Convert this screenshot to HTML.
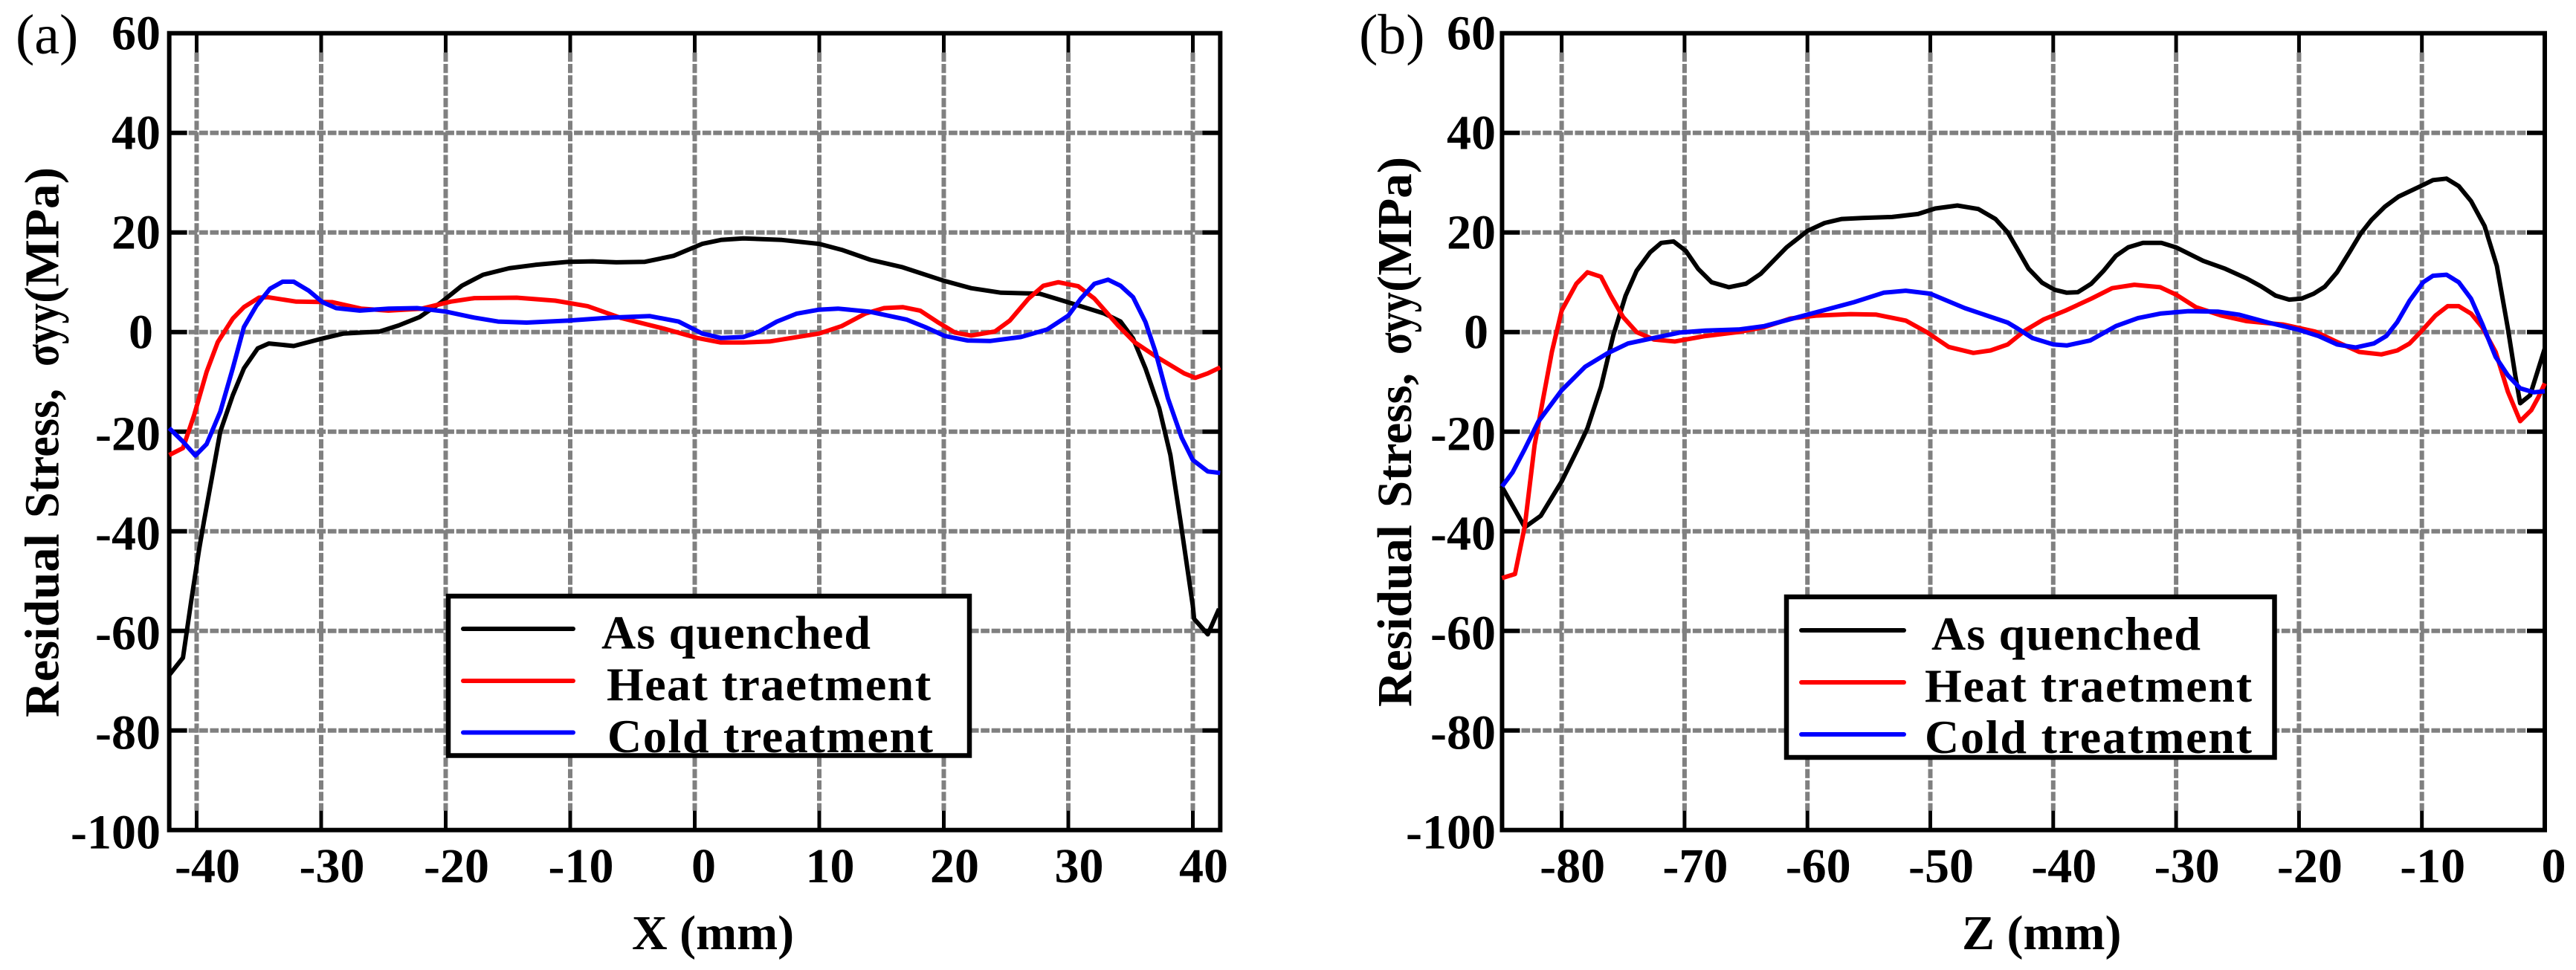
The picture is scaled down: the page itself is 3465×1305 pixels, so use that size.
<!DOCTYPE html>
<html lang="en">
<head>
<meta charset="utf-8">
<title>Residual stress charts</title>
<style>
html,body{margin:0;padding:0;background:#fff;}
svg{display:block;}
text{font-family:"Liberation Serif","Noto Serif CJK SC",serif;fill:#000;}
.b{font-weight:bold;}
</style>
</head>
<body>
<svg id="chart" xmlns="http://www.w3.org/2000/svg" width="3465" height="1305" viewBox="0 0 3465 1305">
  <rect width="3465" height="1305" fill="#fff"/>

  <g id="panel-a"></g>
  <g id="panel-b"></g>

  <g>
    <text x="21" y="72" font-size="76">(a)</text>
    <g class="b" font-size="66" font-weight="bold" transform="translate(78.5,965) rotate(-90)">
      <text x="0" y="0" textLength="247" lengthAdjust="spacing">Residual</text>
      <text x="268" y="0" textLength="174" lengthAdjust="spacingAndGlyphs">Stress,</text>
      <text x="472" y="0" textLength="85" lengthAdjust="spacingAndGlyphs">σyy</text>
      <text x="557" y="0" textLength="183" lengthAdjust="spacingAndGlyphs">(MPa)</text>
    </g>
    <text class="b" font-size="66" x="850" y="1277">X (mm)</text>
    <g>
      <rect x="603" y="802" width="701" height="214.5" fill="#fff" stroke="#000" stroke-width="6.5"/>
      <line x1="623" x2="771" y1="846" y2="846" stroke="#000" stroke-width="6" stroke-linecap="round"/>
      <line x1="623" x2="771" y1="916" y2="916" stroke="#f00" stroke-width="6" stroke-linecap="round"/>
      <line x1="623" x2="771" y1="985.5" y2="985.5" stroke="#00f" stroke-width="6" stroke-linecap="round"/>
      <text class="b" font-size="64" x="809" y="872.5" textLength="362" lengthAdjust="spacing">As quenched</text>
      <text class="b" font-size="64" x="816" y="942" textLength="436" lengthAdjust="spacing">Heat traetment</text>
      <text class="b" font-size="64" x="817" y="1012" textLength="438" lengthAdjust="spacing">Cold treatment</text>
    </g>
  </g>

  <g>
    <text x="1828" y="72" font-size="76">(b)</text>
    <g class="b" font-size="66" font-weight="bold" transform="translate(1898,951) rotate(-90)">
      <text x="0" y="0" textLength="245" lengthAdjust="spacing">Residual</text>
      <text x="268" y="0" textLength="181" lengthAdjust="spacingAndGlyphs">Stress,</text>
      <text x="474" y="0" textLength="84" lengthAdjust="spacingAndGlyphs">σyy</text>
      <text x="558" y="0" textLength="182" lengthAdjust="spacingAndGlyphs">(MPa)</text>
    </g>
    <text class="b" font-size="66" x="2639" y="1277">Z (mm)</text>
    <g>
      <rect x="2403" y="803" width="656.5" height="216" fill="#fff" stroke="#000" stroke-width="6.5"/>
      <line x1="2423" x2="2561" y1="848" y2="848" stroke="#000" stroke-width="6" stroke-linecap="round"/>
      <line x1="2423" x2="2561" y1="918" y2="918" stroke="#f00" stroke-width="6" stroke-linecap="round"/>
      <line x1="2423" x2="2561" y1="988" y2="988" stroke="#00f" stroke-width="6" stroke-linecap="round"/>
      <text class="b" font-size="64" x="2598" y="874" textLength="362" lengthAdjust="spacing">As quenched</text>
      <text class="b" font-size="64" x="2589" y="944" textLength="440" lengthAdjust="spacing">Heat traetment</text>
      <text class="b" font-size="64" x="2589" y="1013" textLength="440" lengthAdjust="spacing">Cold treatment</text>
    </g>
  </g>
</svg>

<script>
const yTicks = [60, 40, 20, 0, -20, -40, -60, -80, -100];
const xTicksA = [-40, -30, -20, -10, 0, 10, 20, 30, 40];
const xTicksB = [-80, -70, -60, -50, -40, -30, -20, -10, 0];

const aBlackX = [-42.2,-41.1,-40.4,-39.8,-39.4,-38.1,-37.1,-36.2,-35.1,-34.2,-32.2,-29.9,-28.2,-25.3,-23.8,-22.1,-20.4,-18.7,-17,-14.9,-12.8,-10.1,-8.2,-6.3,-4,-1.7,0.6,2.1,3.9,7,10,11.8,14.1,16.7,20,22.2,24.6,27.7,29.8,32.9,34.2,35.2,36.2,37.3,38.2,39,40,40.1,41.2,42.1];
const aBlackY = [-68.9,-65.4,-53.4,-43.6,-37.8,-20,-12.7,-7.3,-3.3,-2.3,-2.8,-1.3,-0.3,0.1,1.3,3,5.9,9.3,11.5,12.8,13.5,14.1,14.2,14,14.1,15.3,17.7,18.5,18.8,18.5,17.7,16.5,14.5,13,10.3,8.8,7.9,7.7,6.1,3.7,2.1,-1.3,-7.3,-15.3,-24.7,-37.9,-55,-57.6,-60.7,-55.6];

const aRedX = [-42.2,-41.1,-40.2,-39.2,-38.3,-37.1,-36.2,-35,-34.3,-32,-29.1,-26.8,-24.6,-21.9,-19.6,-17.7,-14.3,-11.2,-8.6,-5.9,-2.5,0.2,2.1,3.9,6,10,11.8,13.7,15.2,16.7,18.1,19.5,20.9,22.2,24.1,25.3,26.8,28,29.2,30.8,32.1,34,35.3,37.1,39.3,40.2,41.2,42.2];
const aRedY = [-24.7,-23.3,-16.7,-8,-2,2.7,5,6.9,7,6.1,6,4.7,4.3,4.7,6.1,6.8,6.9,6.3,5.2,2.8,0.7,-1.2,-2.1,-2.1,-1.9,-0.3,1.2,3.7,4.8,5,4.3,2,-0.1,-0.7,0.1,2.3,6.7,9.3,10,9.2,6.7,1.3,-2,-5,-8.3,-9.2,-8.3,-7.1];

const aBlueX = [-42.2,-41.1,-40.1,-39.2,-38.1,-37.1,-36.2,-35.2,-34.1,-33.1,-32.2,-31,-29.9,-28.8,-26.9,-24.6,-22.3,-20,-17.7,-15.8,-13.5,-10.1,-6.7,-3.6,-1.3,0.6,2.1,3.9,5.1,6.6,8.2,10,11.5,14,17,18.5,20.1,21.9,23.7,26.2,28.3,30,31,32.1,33.2,34.2,35.2,36.2,37,38,39.1,40,41.2,42.2];
const aBlueY = [-19.3,-22,-24.8,-22.5,-16,-7.3,1,5.3,8.7,10.1,10.1,8.3,6,4.8,4.3,4.7,4.8,4.1,2.9,2.1,1.9,2.3,2.9,3.2,2.1,-0.3,-1.2,-1,0,2.1,3.7,4.5,4.7,4.1,2.5,1,-0.8,-1.7,-1.8,-1,0.5,3.3,6.7,9.7,10.5,9.3,7,2,-4,-13.3,-21.2,-25.7,-28,-28.3];

const bBlackX = [-84.9,-83,-81.7,-80,-78.6,-77.9,-76.8,-75.8,-74.8,-73.9,-72.8,-71.9,-70.9,-69.9,-68.9,-67.8,-66.4,-65,-63.8,-61.7,-60,-58.6,-57.2,-55.5,-53.1,-51,-49.6,-47.8,-46.1,-44.7,-43.7,-43,-42,-40.9,-39.9,-38.9,-38,-36.9,-35.9,-34.9,-33.9,-32.7,-31.2,-30,-27.8,-26,-24.3,-23.1,-21.9,-20.8,-19.8,-18.8,-17.9,-16.9,-15.9,-15,-14.1,-13,-11.9,-10.1,-9.1,-8,-7,-6,-4.9,-3.9,-3,-2.4,-2,-1.2,-0.6,0];
const bBlackY = [-30.9,-39.2,-36.9,-30,-23,-19.3,-11,-0.7,7.3,12.3,16,17.9,18.2,16.3,12.7,10,9,9.7,11.7,17,20.3,21.9,22.7,22.9,23.1,23.7,24.8,25.4,24.7,22.7,20,17,12.7,9.9,8.5,7.9,8,9.7,12.3,15.3,17,17.9,17.9,17,14.3,12.7,10.8,9.2,7.3,6.5,6.7,7.7,9.1,12,16,19.7,22.5,25.2,27.2,29.3,30.5,30.8,29.3,26.3,21.3,13.3,0.7,-8.7,-14.3,-12.7,-8,-3.3];

const bRedX = [-84.85,-83.8,-83,-82.2,-81.5,-80.8,-80,-78.8,-77.9,-76.8,-76,-75,-73.9,-72.5,-70.8,-68.3,-65.6,-63.5,-61.4,-59.3,-56.5,-54.4,-52,-50.3,-48.5,-46.5,-45.1,-43.7,-42.3,-40.8,-39,-36.9,-35.2,-33.4,-31.3,-30,-28.4,-26.3,-24.3,-21.3,-18.7,-16.9,-15.1,-13.3,-12,-11,-10.1,-8.9,-7.9,-7,-6,-5.1,-4,-3,-2,-1.1,-0.5,0];
const bRedY = [-49.4,-48.6,-39,-22.7,-13.3,-4,4.3,9.7,12,11.1,7.3,3,0,-1.5,-1.9,-0.8,0,1,2.7,3.3,3.6,3.5,2.3,0,-3,-4.2,-3.7,-2.5,0.3,2.5,4.3,6.7,8.8,9.5,9,7.5,5,3.3,2.2,1.5,0.1,-2,-4,-4.5,-3.7,-2.3,0,3.3,5.2,5.2,3.7,1,-4,-12,-17.9,-15.7,-13,-10.3];

const bBlueX = [-84.85,-84,-83,-81.9,-80,-78.1,-76.3,-74.6,-72.5,-70.4,-68.3,-65.6,-63.5,-60,-56.2,-53.8,-52,-50,-47.2,-43.7,-42.9,-41.7,-40,-38.9,-37,-34.9,-33.1,-31.3,-29,-26.6,-24.9,-22.5,-20.1,-18.4,-16.9,-15.4,-13.9,-12.9,-12,-11,-9.9,-9.1,-8,-7,-6,-5.1,-4,-3,-2,-0.9,0];
const bBlueY = [-31,-28.2,-23.5,-18,-11.7,-7,-4.3,-2.3,-1.2,-0.1,0.3,0.5,1.2,3.5,6,7.9,8.3,7.7,4.8,1.9,0.7,-1.2,-2.5,-2.7,-1.7,1.2,2.8,3.7,4.2,4.1,3.5,1.9,0.5,-0.8,-2.5,-3.1,-2.3,-0.8,2,6.3,10,11.3,11.5,10,6.7,1.7,-5,-8.7,-11.3,-12.1,-11.9];

const SVGNS = 'http://www.w3.org/2000/svg';

function make(tag, attrs, parent) {
  const el = document.createElementNS(SVGNS, tag);
  for (const k in attrs) el.setAttribute(k, attrs[k]);
  parent.appendChild(el);
  return el;
}

function drawPanel(cfg) {
  const g = document.getElementById(cfg.id);
  const sx = v => cfg.x0 + v * cfg.xs;
  const sy = v => 446.7 - v * 6.7;
  const left = sx(cfg.xMin), right = sx(cfg.xMax);
  const top = sy(60), bottom = sy(-100);

  cfg.xTicks.forEach(t => {
    const grid = make('line', {x1: sx(t), x2: sx(t), y1: top + 26, y2: bottom - 26, stroke: '#808080', 'stroke-width': 6, 'stroke-dasharray': '12.3 3'}, g);
    
    
  });
  yTicks.filter(t => t !== 60 && t !== -100).forEach(t => {
    const grid = make('line', {x1: left + 26, x2: right - 24, y1: sy(t), y2: sy(t), stroke: '#808080', 'stroke-width': 6, 'stroke-dasharray': '11.7 2.7'}, g);
    
    
    [[left, left + 24], [right - 24, right]].forEach(p => {
      const tick = make('line', {x1: p[0], x2: p[1], y1: sy(t), y2: sy(t), stroke: '#000', 'stroke-width': 6}, g);
      
      
    });
  });
  cfg.xTicks.forEach(t => {
    [[top, top + 26], [bottom - 26, bottom]].forEach(p => {
      const tick = make('line', {x1: sx(t), x2: sx(t), y1: p[0], y2: p[1], stroke: '#000', 'stroke-width': 5}, g);
      
      
    });
    const lab = make('text', {x: sx(t) + (t === 0 ? 12 : 14.5), y: 1187, 'text-anchor': 'middle', 'font-size': 66, class: 'b'}, g);
    lab.textContent = String(t);
    
    
  });
  yTicks.forEach(t => {
    const lab = make('text', {x: cfg.yLabelEnd - (t === 0 ? 10 : 0), y: sy(t) + (t < 0 ? 25 : 22), 'text-anchor': 'end', 'font-size': 66, class: 'b'}, g);
    lab.textContent = String(t);
    
    
  });

  const frame = make('rect', {x: left, y: top, width: right - left, height: bottom - top, fill: 'none', stroke: '#000', 'stroke-width': 6}, g);
  
  

  cfg.series.forEach(s => {
    const pts = s.xs.map((x, i) => sx(x).toFixed(1) + ',' + sy(s.ys[i]).toFixed(1)).join(' ');
    const line = make('polyline', {points: pts, fill: 'none', stroke: s.color, 'stroke-width': 6, 'stroke-linejoin': 'round'}, g);
    
    
  });
}

drawPanel({
  id: 'panel-a', x0: 934.5, xs: 16.75, xMin: -42.2, xMax: 42.2, xTicks: xTicksA, yLabelEnd: 216,
  series: [
    {name: 'line-as-quenched-a', color: '#000', xs: aBlackX, ys: aBlackY},
    {name: 'line-heat-treatment-a', color: '#f00', xs: aRedX, ys: aRedY},
    {name: 'line-cold-treatment-a', color: '#00f', xs: aBlueX, ys: aBlueY}
  ]
});
drawPanel({
  id: 'panel-b', x0: 3423, xs: 16.53, xMin: -84.85, xMax: 0, xTicks: xTicksB, yLabelEnd: 2012,
  series: [
    {name: 'line-as-quenched-b', color: '#000', xs: bBlackX, ys: bBlackY},
    {name: 'line-heat-treatment-b', color: '#f00', xs: bRedX, ys: bRedY},
    {name: 'line-cold-treatment-b', color: '#00f', xs: bBlueX, ys: bBlueY}
  ]
});
</script>
</body>
</html>
